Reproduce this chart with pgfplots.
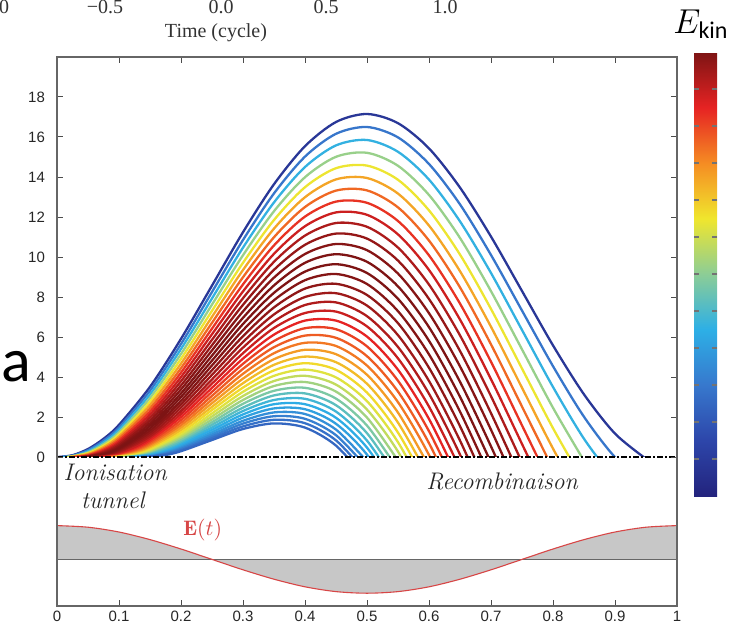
\documentclass[border=0pt]{standalone}
\usepackage{pgfplots}
\pgfplotsset{compat=1.18}
\usepackage{fontspec}
\newfontfamily\tickfont{Liberation Sans}
\newfontfamily\timesf{Liberation Serif}
\newfontfamily\carlito{Carlito}
\definecolor{ered}{RGB}{215,70,70}
\pgfplotsset{
  colormap={ejet}{rgb255(0)=(35,35,125) rgb255(1)=(45,70,170) rgb255(2)=(55,120,205) rgb255(3)=(45,175,230) rgb255(4)=(140,205,150) rgb255(5)=(240,230,45) rgb255(6)=(245,140,35) rgb255(7)=(230,35,35) rgb255(8)=(125,20,20)},
  traj/.style={color of colormap={#1}, line width=1.15pt, smooth},
}
\begin{document}
\begin{tikzpicture}
\begin{axis}[
  at={(0,0)}, anchor=south west,
  scale only axis, width=310pt, height=274.5pt,
  xmin=0, xmax=1, ymin=-7.45, ymax=20,
  xtick={0,0.1,0.2,0.3,0.4,0.5,0.6,0.7,0.8,0.9,1},
  xticklabels={0,0.1,0.2,0.3,0.4,0.5,0.6,0.7,0.8,0.9,1},
  ytick={0,2,4,6,8,10,12,14,16,18},
  yticklabels={0,2,4,6,8,10,12,14,16,18},
  tick label style={font=\tickfont\fontsize{7.5}{9}\selectfont, text=black!85},
  xticklabel style={yshift=1pt},
  yticklabel style={xshift=-2.5pt},
  tick align=inside, major tick length=3pt,
  tick style={draw=black!70, line width=0.5pt},
  axis line style={draw=black!60, line width=0.7pt},
  axis on top,
  colormap name=ejet,
  colorbar,
  point meta min=0, point meta max=1000,
  colorbar style={
    scale only axis,
    axis on top,
    at={(parent axis.north east)}, anchor=north west,
    xshift=0pt, yshift=2.5pt,
    width=11.5pt, height=222pt,
    ytick={83.3,166.7,250,333.3,416.7,500,583.3,666.7,750,833.3,916.7},
    yticklabels={},
    ytick pos=both,
    tick align=inside,
    major tick length=2.5pt,
    tick style={draw=black!55, line width=0.6pt},
    axis line style={draw=none},
  },
]
% electron trajectories, colour = return kinetic energy
\addplot[traj=73] coordinates {(0.0016,0) (0.025,0.09) (0.05,0.40) (0.075,0.91) (0.1,1.61) (0.15,3.51) (0.2,5.91) (0.25,8.57) (0.3,11.24) (0.35,13.64) (0.4,15.54) (0.45,16.75) (0.5,17.15) (0.55,16.69) (0.6,15.43) (0.65,13.47) (0.7,11.02) (0.75,8.30) (0.8,5.58) (0.85,3.13) (0.9,1.17) (0.95,-0.09)};
\addplot[traj=244] coordinates {(0.0054,0) (0.025,0.07) (0.05,0.34) (0.075,0.82) (0.1,1.48) (0.15,3.32) (0.2,5.65) (0.25,8.25) (0.3,10.85) (0.35,13.18) (0.4,15.02) (0.45,16.16) (0.5,16.50) (0.55,15.98) (0.6,14.65) (0.65,12.63) (0.7,10.10) (0.75,7.32) (0.8,4.54) (0.85,2.01) (0.9,-0.01) (0.95,-1.34)};
\addplot[traj=383] coordinates {(0.0092,0) (0.025,0.04) (0.05,0.28) (0.075,0.73) (0.1,1.36) (0.15,3.13) (0.2,5.40) (0.25,7.93) (0.3,10.47) (0.35,12.73) (0.4,14.50) (0.45,15.58) (0.5,15.85) (0.55,15.26) (0.6,13.87) (0.65,11.78) (0.7,9.20) (0.75,6.35) (0.8,3.50) (0.85,0.91) (0.9,-1.18)};
\addplot[traj=515] coordinates {(0.0131,0) (0.025,0.02) (0.05,0.23) (0.075,0.64) (0.1,1.24) (0.15,2.95) (0.2,5.15) (0.25,7.62) (0.3,10.09) (0.35,12.29) (0.4,13.99) (0.45,15.01) (0.5,15.21) (0.55,14.56) (0.6,13.10) (0.65,10.95) (0.7,8.29) (0.75,5.38) (0.8,2.46) (0.85,-0.19)};
\addplot[traj=621] coordinates {(0.0169,0) (0.05,0.19) (0.075,0.56) (0.1,1.13) (0.15,2.77) (0.2,4.91) (0.25,7.31) (0.3,9.71) (0.35,11.85) (0.4,13.49) (0.45,14.44) (0.5,14.57) (0.55,13.86) (0.6,12.33) (0.65,10.12) (0.7,7.40) (0.75,4.42) (0.8,1.44) (0.85,-1.28)};
\addplot[traj=715] coordinates {(0.0207,0) (0.05,0.15) (0.075,0.49) (0.1,1.03) (0.15,2.60) (0.2,4.67) (0.25,7.01) (0.3,9.35) (0.35,11.42) (0.4,12.99) (0.45,13.88) (0.5,13.95) (0.55,13.17) (0.6,11.57) (0.65,9.29) (0.7,6.51) (0.75,3.46) (0.8,0.42) (0.85,-2.37)};
\addplot[traj=793] coordinates {(0.0245,0) (0.05,0.11) (0.075,0.42) (0.1,0.93) (0.15,2.43) (0.2,4.44) (0.25,6.71) (0.3,8.99) (0.35,10.99) (0.4,12.50) (0.45,13.32) (0.5,13.33) (0.55,12.48) (0.6,10.82) (0.65,8.48) (0.7,5.63) (0.75,2.52) (0.8,-0.60)};
\addplot[traj=856] coordinates {(0.0283,0) (0.05,0.08) (0.075,0.36) (0.1,0.83) (0.15,2.27) (0.2,4.22) (0.25,6.42) (0.3,8.63) (0.35,10.58) (0.4,12.02) (0.45,12.77) (0.5,12.71) (0.55,11.80) (0.6,10.08) (0.65,7.67) (0.7,4.76) (0.75,1.58) (0.8,-1.60)};
\addplot[traj=907] coordinates {(0.0321,0) (0.05,0.05) (0.075,0.30) (0.1,0.74) (0.15,2.12) (0.2,4.00) (0.25,6.14) (0.3,8.28) (0.35,10.16) (0.4,11.54) (0.45,12.23) (0.5,12.11) (0.55,11.13) (0.6,9.35) (0.65,6.87) (0.7,3.89) (0.75,0.65) (0.8,-2.59)};
\addplot[traj=945] coordinates {(0.036,0) (0.05,0.03) (0.075,0.25) (0.1,0.66) (0.15,1.97) (0.2,3.79) (0.25,5.86) (0.3,7.94) (0.35,9.76) (0.4,11.07) (0.45,11.70) (0.5,11.51) (0.55,10.47) (0.6,8.62) (0.65,6.08) (0.7,3.04) (0.75,-0.27)};
\addplot[traj=972] coordinates {(0.0398,0) (0.05,0.02) (0.075,0.20) (0.1,0.58) (0.15,1.83) (0.2,3.58) (0.25,5.59) (0.3,7.61) (0.35,9.36) (0.4,10.61) (0.45,11.17) (0.5,10.92) (0.55,9.82) (0.6,7.90) (0.65,5.30) (0.7,2.19) (0.75,-1.18)};
\addplot[traj=990] coordinates {(0.0436,0) (0.075,0.16) (0.1,0.50) (0.15,1.69) (0.2,3.38) (0.25,5.33) (0.3,7.28) (0.35,8.97) (0.4,10.15) (0.45,10.65) (0.5,10.34) (0.55,9.17) (0.6,7.19) (0.65,4.53) (0.7,1.36) (0.75,-2.08)};
\addplot[traj=999] coordinates {(0.0474,0) (0.075,0.12) (0.1,0.44) (0.15,1.56) (0.2,3.18) (0.25,5.07) (0.3,6.96) (0.35,8.58) (0.4,9.71) (0.45,10.14) (0.5,9.76) (0.55,8.53) (0.6,6.49) (0.65,3.76) (0.7,0.53) (0.75,-2.96)};
\addplot[traj=1000] coordinates {(0.0512,0) (0.075,0.09) (0.1,0.37) (0.15,1.43) (0.2,3.00) (0.25,4.82) (0.3,6.65) (0.35,8.21) (0.4,9.27) (0.45,9.64) (0.5,9.20) (0.55,7.91) (0.6,5.81) (0.65,3.01) (0.7,-0.28)};
\addplot[traj=992] coordinates {(0.0551,0) (0.075,0.06) (0.1,0.31) (0.15,1.31) (0.2,2.81) (0.25,4.58) (0.3,6.34) (0.35,7.84) (0.4,8.84) (0.45,9.15) (0.5,8.65) (0.55,7.29) (0.6,5.13) (0.65,2.27) (0.7,-1.08)};
\addplot[traj=979] coordinates {(0.0589,0) (0.075,0.04) (0.1,0.26) (0.15,1.20) (0.2,2.64) (0.25,4.34) (0.3,6.04) (0.35,7.48) (0.4,8.42) (0.45,8.66) (0.5,8.10) (0.55,6.69) (0.6,4.46) (0.65,1.54) (0.7,-1.88)};
\addplot[traj=961] coordinates {(0.0627,0) (0.075,0.02) (0.1,0.21) (0.15,1.09) (0.2,2.47) (0.25,4.11) (0.3,5.75) (0.35,7.13) (0.4,8.00) (0.45,8.19) (0.5,7.57) (0.55,6.09) (0.6,3.80) (0.65,0.82) (0.7,-2.66)};
\addplot[traj=941] coordinates {(0.0665,0) (0.1,0.17) (0.15,0.99) (0.2,2.30) (0.25,3.88) (0.3,5.47) (0.35,6.78) (0.4,7.60) (0.45,7.73) (0.5,7.04) (0.55,5.50) (0.6,3.16) (0.65,0.12) (0.7,-3.42)};
\addplot[traj=910] coordinates {(0.0703,0) (0.1,0.13) (0.15,0.89) (0.2,2.15) (0.25,3.67) (0.3,5.19) (0.35,6.45) (0.4,7.20) (0.45,7.27) (0.5,6.53) (0.55,4.93) (0.6,2.52) (0.65,-0.58)};
\addplot[traj=876] coordinates {(0.0742,0) (0.1,0.10) (0.125,0.37) (0.15,0.80) (0.2,2.00) (0.25,3.46) (0.3,4.92) (0.35,6.12) (0.4,6.82) (0.45,6.82) (0.5,6.02) (0.55,4.36) (0.6,1.90) (0.65,-1.26)};
\addplot[traj=842] coordinates {(0.078,0) (0.1,0.07) (0.125,0.32) (0.15,0.71) (0.2,1.85) (0.25,3.26) (0.3,4.66) (0.35,5.80) (0.4,6.44) (0.45,6.39) (0.5,5.53) (0.55,3.81) (0.6,1.29) (0.65,-1.93)};
\addplot[traj=808] coordinates {(0.0818,0) (0.1,0.05) (0.125,0.26) (0.15,0.63) (0.2,1.71) (0.25,3.06) (0.3,4.41) (0.35,5.49) (0.4,6.07) (0.45,5.96) (0.5,5.04) (0.55,3.27) (0.6,0.69) (0.65,-2.58)};
\addplot[traj=774] coordinates {(0.0856,0) (0.1,0.03) (0.125,0.22) (0.15,0.56) (0.2,1.58) (0.25,2.87) (0.3,4.16) (0.35,5.19) (0.4,5.71) (0.45,5.55) (0.5,4.57) (0.55,2.74) (0.6,0.10) (0.65,-3.23)};
\addplot[traj=729] coordinates {(0.0894,0) (0.1,0.02) (0.125,0.18) (0.15,0.49) (0.2,1.46) (0.25,2.69) (0.3,3.92) (0.35,4.89) (0.4,5.36) (0.45,5.14) (0.5,4.11) (0.55,2.22) (0.6,-0.47)};
\addplot[traj=685] coordinates {(0.0933,0) (0.125,0.14) (0.15,0.42) (0.2,1.34) (0.25,2.51) (0.3,3.69) (0.35,4.61) (0.4,5.02) (0.45,4.74) (0.5,3.66) (0.55,1.72) (0.6,-1.03)};
\addplot[traj=643] coordinates {(0.0971,0) (0.125,0.11) (0.15,0.36) (0.2,1.22) (0.25,2.35) (0.3,3.47) (0.35,4.33) (0.4,4.69) (0.45,4.36) (0.5,3.22) (0.55,1.22) (0.6,-1.58)};
\addplot[traj=604] coordinates {(0.1009,0) (0.125,0.08) (0.15,0.31) (0.2,1.11) (0.25,2.18) (0.3,3.26) (0.35,4.06) (0.4,4.37) (0.45,3.98) (0.5,2.79) (0.55,0.74) (0.6,-2.12)};
\addplot[traj=568] coordinates {(0.1047,0) (0.125,0.05) (0.15,0.26) (0.2,1.01) (0.25,2.03) (0.3,3.05) (0.35,3.80) (0.4,4.06) (0.45,3.62) (0.5,2.37) (0.55,0.27) (0.6,-2.64)};
\addplot[traj=527] coordinates {(0.1085,0) (0.125,0.04) (0.15,0.21) (0.2,0.92) (0.25,1.88) (0.3,2.85) (0.35,3.55) (0.4,3.75) (0.45,3.27) (0.5,1.97) (0.55,-0.18)};
\addplot[traj=479] coordinates {(0.1124,0) (0.15,0.17) (0.2,0.83) (0.25,1.74) (0.3,2.66) (0.35,3.31) (0.4,3.46) (0.45,2.92) (0.5,1.57) (0.55,-0.63)};
\addplot[traj=437] coordinates {(0.1162,0) (0.15,0.14) (0.2,0.74) (0.25,1.61) (0.3,2.47) (0.35,3.08) (0.4,3.18) (0.45,2.59) (0.5,1.19) (0.55,-1.06)};
\addplot[traj=401] coordinates {(0.12,0) (0.15,0.11) (0.175,0.34) (0.2,0.66) (0.25,1.48) (0.3,2.30) (0.35,2.85) (0.4,2.91) (0.45,2.27) (0.5,0.82) (0.55,-1.48)};
\addplot[traj=368] coordinates {(0.1238,0) (0.15,0.08) (0.175,0.28) (0.2,0.59) (0.25,1.36) (0.3,2.13) (0.35,2.64) (0.4,2.64) (0.45,1.96) (0.5,0.47) (0.55,-1.88)};
\addplot[traj=340] coordinates {(0.1276,0) (0.15,0.06) (0.175,0.24) (0.2,0.52) (0.25,1.24) (0.3,1.97) (0.35,2.43) (0.4,2.39) (0.45,1.66) (0.5,0.12) (0.55,-2.27)};
\addplot[traj=303] coordinates {(0.1315,0) (0.15,0.04) (0.175,0.20) (0.2,0.46) (0.25,1.13) (0.3,1.81) (0.35,2.23) (0.4,2.15) (0.45,1.37) (0.5,-0.22)};
\addplot[traj=265] coordinates {(0.1353,0) (0.15,0.02) (0.175,0.16) (0.2,0.40) (0.25,1.03) (0.3,1.67) (0.35,2.04) (0.4,1.91) (0.45,1.09) (0.5,-0.54)};
\addplot[traj=233] coordinates {(0.1391,0) (0.15,0.01) (0.175,0.13) (0.2,0.34) (0.25,0.94) (0.3,1.53) (0.35,1.86) (0.4,1.69) (0.45,0.83) (0.5,-0.85)};
\addplot[traj=208] coordinates {(0.1429,0) (0.175,0.10) (0.2,0.29) (0.25,0.85) (0.3,1.40) (0.35,1.68) (0.4,1.47) (0.45,0.57) (0.5,-1.15)};
% mask below the return line
\addplot[fill=white, draw=none] coordinates {(0,-7.45) (1,-7.45) (1,0) (0,0)} -- cycle;
% laser field E(t)
\addplot[fill=black!22, draw=none] coordinates {(0,-3.43) (0.05,-3.51) (0.1,-3.75) (0.15,-4.13) (0.2,-4.60) (0.25,-5.12) (0.3,-5.64) (0.35,-6.11) (0.4,-6.49) (0.45,-6.73) (0.5,-6.81) (0.55,-6.73) (0.6,-6.49) (0.65,-6.11) (0.7,-5.64) (0.75,-5.12) (0.8,-4.60) (0.85,-4.13) (0.9,-3.75) (0.95,-3.51) (1,-3.43) (1,-5.12) (0,-5.12)} -- cycle;
\addplot[black!60, line width=0.8pt] coordinates {(0,-5.12) (1,-5.12)};
\addplot[ered, line width=0.55pt, smooth] coordinates {(0,-3.43) (0.05,-3.51) (0.1,-3.75) (0.15,-4.13) (0.2,-4.60) (0.25,-5.12) (0.3,-5.64) (0.35,-6.11) (0.4,-6.49) (0.45,-6.73) (0.5,-6.81) (0.55,-6.73) (0.6,-6.49) (0.65,-6.11) (0.7,-5.64) (0.75,-5.12) (0.8,-4.60) (0.85,-4.13) (0.9,-3.75) (0.95,-3.51) (1,-3.43)};
% return line
\addplot[black, line width=1.4pt, dash pattern=on 3pt off 1pt on 1pt off 1pt] coordinates {(0,0) (1,0)};
\draw[black, line width=1pt] (rel axis cs:1,0) -- (rel axis cs:1,1);
\node[font=\fontsize{12}{14}\selectfont\itshape, text=black!85] at (axis cs:0.094,-0.75) {Ionisation};
\node[font=\fontsize{12}{14}\selectfont\itshape, text=black!85] at (axis cs:0.09,-2.15) {tunnel};
\node[font=\fontsize{12}{14}\selectfont\itshape, text=black!85] at (axis cs:0.718,-1.2) {Recombinaison};
\node[text=ered, font=\fontsize{10.5}{12}\selectfont] at (axis cs:0.235,-3.65) {$\mathbf{E}(t)$};
\end{axis}
\begin{scope}[x=0.5pt,y=-0.5pt,shift={(-28.5pt,303pt)}]
\node[font=\timesf\fontsize{10}{12}\selectfont, text=black!80] at (216,33) {Time (cycle)};
\foreach \xx/\lab in {4/0,105/−0.5,221/0.0,326/0.5,445/1.0}
  \node[font=\timesf\fontsize{10}{12}\selectfont, text=black!80] at (\xx,7) {\lab};
\node at (701,24) {\fontsize{17}{19}\selectfont$E_{\mbox{\carlito\fontsize{12}{13}\selectfont kin}}$};
\node[anchor=base west, inner sep=0pt] at (1,381) {\carlito\fontsize{31}{32}\selectfont a};
\end{scope}
\pgfresetboundingbox
\path[use as bounding box] (-28.5pt,-8pt) rectangle (337pt,303pt);
\end{tikzpicture}
\end{document}
